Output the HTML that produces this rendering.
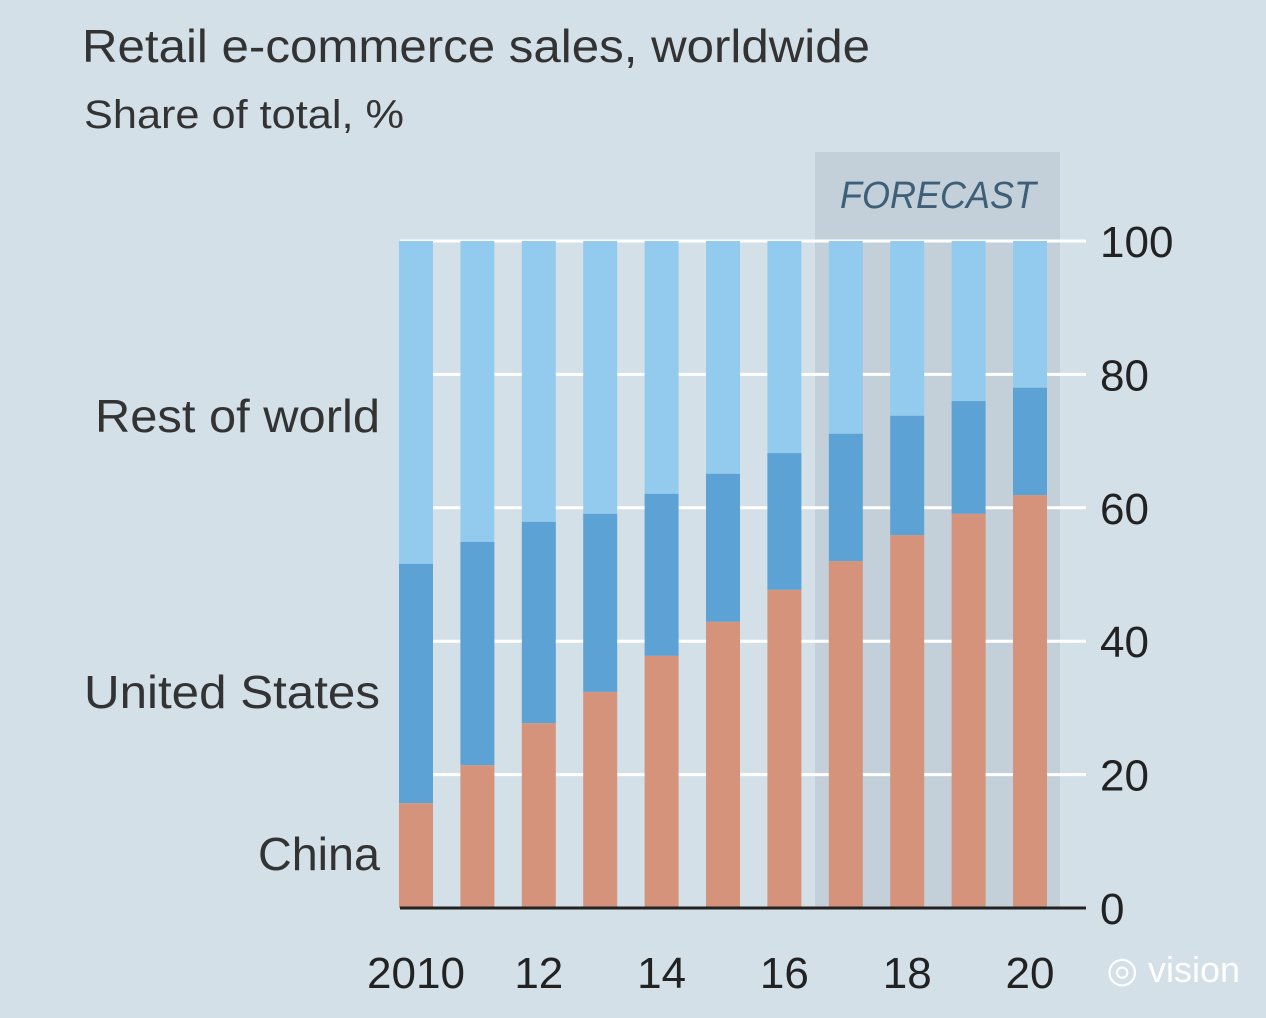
<!DOCTYPE html>
<html><head><meta charset="utf-8"><style>
html,body{margin:0;padding:0;background:#d3e0e8;}
svg{display:block;font-family:"Liberation Sans",sans-serif;}
</style></head><body>
<svg id="chart" width="1266" height="1018">
<rect x="0" y="0" width="1266" height="1018" fill="#d3e0e8"/>
<text x="82" y="62" font-size="46" fill="#333" textLength="788" lengthAdjust="spacingAndGlyphs">Retail e-commerce sales, worldwide</text>
<text x="84" y="128" font-size="40" fill="#333" textLength="320" lengthAdjust="spacingAndGlyphs">Share of total, %</text>
<rect x="815" y="152" width="245" height="756" fill="#c3d0da"/>
<text x="938" y="208" font-size="38" font-style="italic" fill="#3d5f78" text-anchor="middle" textLength="196" lengthAdjust="spacingAndGlyphs">FORECAST</text>
<g id="grid"></g>
<g id="bars"></g>
<g id="labels"></g>
<line x1="400" y1="908" x2="1086" y2="908" stroke="#222" stroke-width="3"/>
<text x="95" y="432" font-size="46" fill="#333" textLength="285" lengthAdjust="spacingAndGlyphs">Rest of world</text>
<text x="84" y="708" font-size="46" fill="#333" textLength="296" lengthAdjust="spacingAndGlyphs">United States</text>
<text x="258" y="870" font-size="46" fill="#333" textLength="122" lengthAdjust="spacingAndGlyphs">China</text>
<text x="1240" y="982" font-size="36" fill="#fff" text-anchor="end">◎ vision</text>
</svg>
<script>
const years = [2010,2011,2012,2013,2014,2015,2016,2017,2018,2019,2020];
const china = [15.7,21.4,27.7,32.4,37.8,42.9,47.7,52.0,55.9,59.1,61.9];
const us = [35.9,33.5,30.2,26.7,24.3,22.2,20.5,19.1,17.9,16.9,16.1];
const yTicks = [0,20,40,60,80,100];
const xTickLabels = ["2010","12","14","16","18","20"];
const xTickYears = [2010,2012,2014,2016,2018,2020];

const NS="http://www.w3.org/2000/svg";
const y = v => 908 - v*6.67;
const x = yr => 416 + (yr-2010)*61.4;
const bw = 34;
function mk(tag, attrs, parent){const e=document.createElementNS(NS,tag);for(const k in attrs)e.setAttribute(k,attrs[k]);parent.appendChild(e);return e;}
const grid=document.getElementById('grid'), bars=document.getElementById('bars'), labels=document.getElementById('labels');
yTicks.forEach(t=>{
  if(t>0){const l=mk('line',{x1:400,x2:1086,y1:y(t),y2:y(t),stroke:'#fff','stroke-width':3},grid);
  
  }
  const tx=mk('text',{x:1100,y:y(t)+16,'font-size':44,fill:'#222'},labels);
  tx.textContent=t;
  
  
});
years.forEach((yr,i)=>{
  const cx=x(yr);
  const r1=mk('rect',{x:cx-bw/2,y:y(100),width:bw,height:y(china[i]+us[i])-y(100),fill:'#93cbee'},bars);
  
  
  const r2=mk('rect',{x:cx-bw/2,y:y(china[i]+us[i]),width:bw,height:y(china[i])-y(china[i]+us[i]),fill:'#5ca2d4'},bars);
  
  
  const r3=mk('rect',{x:cx-bw/2,y:y(china[i]),width:bw,height:908-y(china[i]),fill:'#d4937a'},bars);
  
  
});
xTickYears.forEach((yr,i)=>{
  const t=mk('text',{x:x(yr),y:988,'font-size':44,fill:'#222','text-anchor':'middle'},labels);
  t.textContent=xTickLabels[i];
  
  
});
</script>
</body></html>
